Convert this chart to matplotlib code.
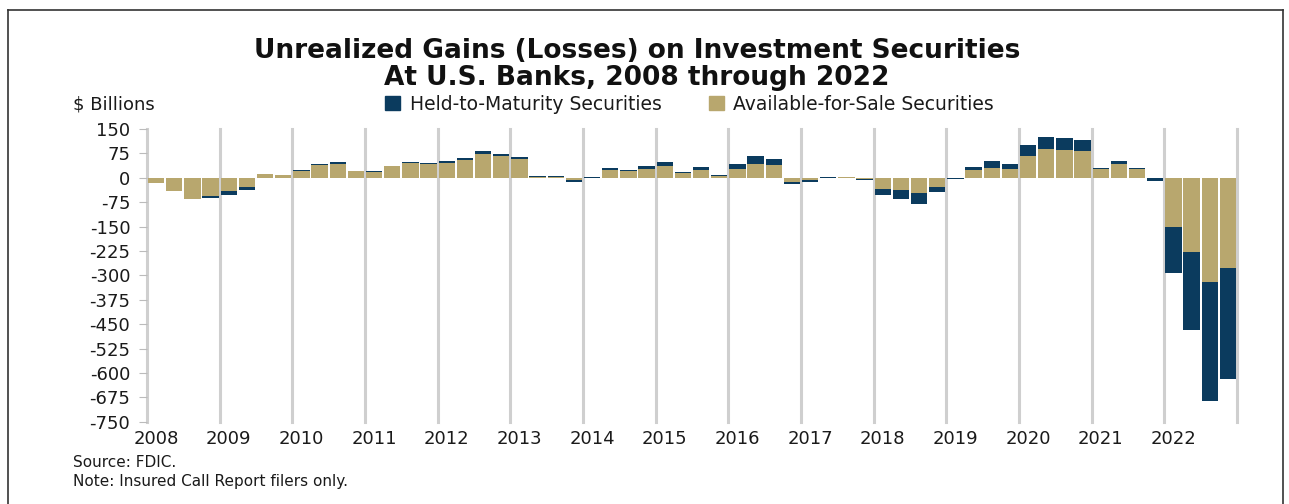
import matplotlib.pyplot as plt
from matplotlib.lines import Line2D
from matplotlib.patches import Patch

years = [str(y) for y in range(2008, 2023)]
yticks = [150, 75, 0, -75, -150, -225, -300, -375, -450, -525, -600, -675, -750]

# quarterly values, $ billions, 2008 Q1 .. 2022 Q4
afs = [-17, -42, -64, -56,
       -39, -27, 12, 8,
       20, 38, 44, 20,
       19, 35, 45, 42,
       47, 56, 73, 67,
       58, 2, 2, -6,
       1, 24, 22, 28,
       35, 16, 23, 7,
       28, 43, 38, -13,
       -8, 1, 2, -4,
       -34, -38, -48, -28,
       -1, 23, 31, 26,
       68, 89, 86, 83,
       28, 41, 28, -1,
       -152, -227, -321, -277]
htm = [0, 0, 0, -5,
       -14, -10, 1, 2,
       3, 3, 4, 2,
       1, 2, 4, 3,
       5, 5, 8, 6,
       5, 3, 3, -7,
       3, 5, 1, 8,
       14, 3, 10, 3,
       16, 24, 21, -5,
       -4, 1, 1, -4,
       -20, -26, -33, -17,
       -2, 11, 21, 18,
       34, 38, 37, 34,
       1, 11, 1, -8,
       -139, -240, -365, -340]

afs_color = '#b8a76e'
htm_color = '#0b3b5e'

fig = plt.figure(figsize=(12.89, 5.04), dpi=100)
ax = fig.add_axes([0.114, 0.163, 0.8457, 0.581])

x = [i + 0.5 for i in range(len(afs))]
ax.bar(x, afs, width=0.9, color=afs_color, zorder=2)
ax.bar(x, htm, width=0.9, bottom=afs, color=htm_color, zorder=2)

for k in range(0, len(afs) + 1, 4):
    ax.axvline(k, color='#cfcfcf', lw=2.2, zorder=1, clip_on=False)

ax.set_xlim(0, 60)
ax.set_ylim(-750, 150)
ax.set_yticks(yticks)
ax.set_yticklabels([str(v) for v in yticks], fontsize=13)
ax.set_xticks([i * 4 + 0.5 for i in range(len(years))])
ax.set_xticklabels(years, fontsize=13)
ax.tick_params(axis='y', length=6, color='#bbbbbb', pad=6, labelcolor='#1a1a1a')
ax.tick_params(axis='x', length=0, pad=6, labelcolor='#1a1a1a')
for s in ax.spines.values():
    s.set_visible(False)

fig.text(0.494, 0.898, 'Unrealized Gains (Losses) on Investment Securities',
         ha='center', va='center', fontsize=19, fontweight='bold', color='#111111')
fig.text(0.494, 0.845, 'At U.S. Banks, 2008 through 2022',
         ha='center', va='center', fontsize=19, fontweight='bold', color='#111111')
fig.text(0.057, 0.793, '$ Billions', ha='left', va='center', fontsize=13, color='#1a1a1a')

handles = [Patch(color=htm_color, label='Held-to-Maturity Securities'),
           Patch(color=afs_color, label='Available-for-Sale Securities')]
fig.legend(handles=handles, loc='center', bbox_to_anchor=(0.535, 0.793), ncol=2,
           frameon=False, fontsize=13.5, handlelength=0.8, handleheight=0.8,
           handletextpad=0.5, columnspacing=2.5, labelcolor='#1a1a1a')

fig.text(0.057, 0.083, 'Source: FDIC.', ha='left', va='center', fontsize=11, color='#1a1a1a')
fig.text(0.057, 0.045, 'Note: Insured Call Report filers only.', ha='left', va='center',
         fontsize=11, color='#1a1a1a')

# frame around the chart
fig.add_artist(Line2D([0.006, 0.006], [0.0, 0.98], color='#333333', lw=1.2))
fig.add_artist(Line2D([0.006, 0.995], [0.98, 0.98], color='#333333', lw=1.2))
fig.add_artist(Line2D([0.995, 0.995], [0.0, 0.98], color='#333333', lw=1.2))

fig.savefig('out.png', dpi=100)
